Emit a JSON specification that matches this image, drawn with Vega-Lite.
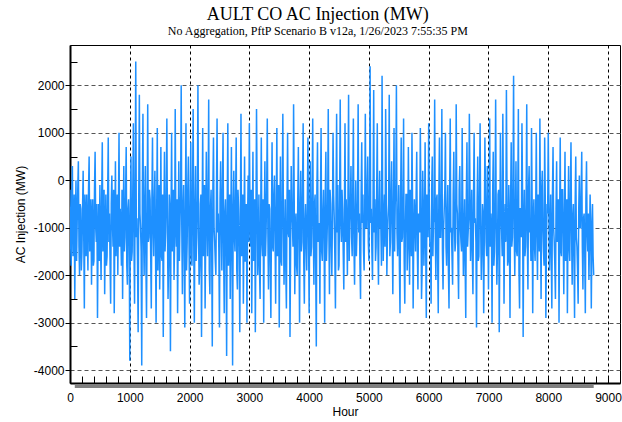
{
  "$schema": "https://vega.github.io/schema/vega-lite/v6.json",
  "width": 550,
  "height": 338,
  "autosize": {"type": "none"},
  "padding": {"left": 70, "top": 45, "right": 2, "bottom": 39},
  "background": "white",
  "title": {
    "text": "AULT CO AC Injection (MW)",
    "subtitle": "No Aggregation, PftP Scenario B v12a, 1/26/2023 7:55:35 PM",
    "font": "Liberation Serif",
    "fontSize": 18,
    "fontWeight": "normal",
    "color": "black",
    "subtitleFont": "Liberation Serif",
    "subtitleFontSize": 12,
    "subtitleColor": "black",
    "anchor": "middle",
    "frame": "bounds",
    "offset": 8,
    "subtitlePadding": 2
  },
  "config": {
    "view": {"stroke": "black", "strokeWidth": 1},
    "axis": {
      "labelFont": "Liberation Sans",
      "labelFontSize": 12,
      "labelColor": "black",
      "titleFont": "Liberation Sans",
      "titleFontSize": 12,
      "titleFontWeight": "normal",
      "titleColor": "black",
      "domainColor": "black",
      "domainWidth": 2,
      "tickColor": "black",
      "tickWidth": 1,
      "labelOverlap": false,
      "labelFlush": false,
      "zindex": 1
    }
  },
  "resolve": {"axis": {"x": "independent", "y": "independent"}},
  "layer": [
    {
      "data": {"values": [
{"h":0,"v":-200},{"h":10,"v":-1300},{"h":20,"v":-1800},{"h":30,"v":-400},{"h":40,"v":300},{"h":50,"v":-1600},{"h":60,"v":-1200},{"h":70,"v":-300},{"h":80,"v":-2500},{"h":90,"v":-900},
{"h":100,"v":0},{"h":110,"v":-1700},{"h":120,"v":-900},{"h":130,"v":-200},{"h":140,"v":400},{"h":150,"v":-1400},{"h":160,"v":-2000},{"h":170,"v":-500},{"h":180,"v":-600},{"h":190,"v":-1900},
{"h":200,"v":-1500},{"h":210,"v":-600},{"h":220,"v":200},{"h":230,"v":-1200},{"h":240,"v":-2700},{"h":250,"v":-300},{"h":260,"v":-800},{"h":270,"v":-1600},{"h":280,"v":-300},{"h":290,"v":-1100},
{"h":300,"v":-1900},{"h":310,"v":-200},{"h":320,"v":500},{"h":330,"v":-1500},{"h":340,"v":-1100},{"h":350,"v":-400},{"h":360,"v":-2200},{"h":370,"v":-800},{"h":380,"v":-400},{"h":390,"v":-1800},
{"h":400,"v":-1700},{"h":410,"v":-200},{"h":420,"v":600},{"h":430,"v":-1000},{"h":440,"v":-1300},{"h":450,"v":-500},{"h":460,"v":-2900},{"h":470,"v":-1200},{"h":480,"v":-500},{"h":490,"v":-1700},
{"h":500,"v":-100},{"h":510,"v":-1300},{"h":520,"v":-2100},{"h":530,"v":-400},{"h":540,"v":800},{"h":550,"v":-1500},{"h":560,"v":-1000},{"h":570,"v":-200},{"h":580,"v":-2400},{"h":590,"v":-1100},
{"h":600,"v":-300},{"h":610,"v":-1800},{"h":620,"v":-1600},{"h":630,"v":-300},{"h":640,"v":900},{"h":650,"v":-1300},{"h":660,"v":-700},{"h":670,"v":-1700},{"h":680,"v":-2600},{"h":690,"v":-500},
{"h":700,"v":100},{"h":710,"v":-900},{"h":720,"v":-1400},{"h":730,"v":-200},{"h":740,"v":-2800},{"h":750,"v":-1000},{"h":760,"v":400},{"h":770,"v":-1600},{"h":780,"v":-900},{"h":790,"v":-300},
{"h":800,"v":-2000},{"h":810,"v":-700},{"h":820,"v":1000},{"h":830,"v":-1400},{"h":840,"v":-600},{"h":850,"v":-1100},{"h":860,"v":-1800},{"h":870,"v":-200},{"h":880,"v":-2500},{"h":890,"v":-900},
{"h":900,"v":300},{"h":910,"v":-1500},{"h":920,"v":-1200},{"h":930,"v":-300},{"h":940,"v":700},{"h":950,"v":-1800},{"h":960,"v":-2200},{"h":970,"v":-600},{"h":980,"v":-400},{"h":990,"v":-1200},
{"h":1000,"v":-3800},{"h":1010,"v":-600},{"h":1020,"v":500},{"h":1030,"v":-1700},{"h":1040,"v":-1500},{"h":1050,"v":-300},{"h":1060,"v":1200},{"h":1070,"v":-1400},{"h":1080,"v":-2600},{"h":1090,"v":-200},
{"h":1100,"v":2500},{"h":1110,"v":-1200},{"h":1120,"v":-800},{"h":1130,"v":-1800},{"h":1140,"v":-3200},{"h":1150,"v":-400},{"h":1160,"v":1800},{"h":1170,"v":-700},{"h":1180,"v":-1000},{"h":1190,"v":-1500},
{"h":1200,"v":-3900},{"h":1210,"v":-300},{"h":1220,"v":1400},{"h":1230,"v":-1100},{"h":1240,"v":-2000},{"h":1250,"v":-500},{"h":1260,"v":300},{"h":1270,"v":-1800},{"h":1280,"v":-2900},{"h":1290,"v":-800},
{"h":1300,"v":1600},{"h":1310,"v":-1300},{"h":1320,"v":-1200},{"h":1330,"v":-200},{"h":1340,"v":-400},{"h":1350,"v":-1600},{"h":1360,"v":-2700},{"h":1370,"v":-400},{"h":1380,"v":900},{"h":1390,"v":-1000},
{"h":1400,"v":-1600},{"h":1410,"v":-500},{"h":1420,"v":200},{"h":1430,"v":-1400},{"h":1440,"v":-3000},{"h":1450,"v":-700},{"h":1460,"v":1100},{"h":1470,"v":-1900},{"h":1480,"v":-900},{"h":1490,"v":-100},
{"h":1500,"v":-2300},{"h":1510,"v":-1200},{"h":1520,"v":700},{"h":1530,"v":-1600},{"h":1540,"v":-1700},{"h":1550,"v":-300},{"h":1560,"v":-3300},{"h":1570,"v":-900},{"h":1580,"v":600},{"h":1590,"v":-1500},
{"h":1600,"v":-1100},{"h":1610,"v":-300},{"h":1620,"v":1300},{"h":1630,"v":-1000},{"h":1640,"v":-2500},{"h":1650,"v":-1700},{"h":1660,"v":-300},{"h":1670,"v":-600},{"h":1680,"v":-3600},{"h":1690,"v":-800},
{"h":1700,"v":1000},{"h":1710,"v":-1500},{"h":1720,"v":-700},{"h":1730,"v":-200},{"h":1740,"v":-2100},{"h":1750,"v":-1300},{"h":1760,"v":1500},{"h":1770,"v":-900},{"h":1780,"v":-1400},{"h":1790,"v":-400},
{"h":1800,"v":-2800},{"h":1810,"v":-1100},{"h":1820,"v":400},{"h":1830,"v":-1700},{"h":1840,"v":-900},{"h":1850,"v":-300},{"h":1860,"v":2000},{"h":1870,"v":-1000},{"h":1880,"v":-2400},{"h":1890,"v":-600},
{"h":1900,"v":-100},{"h":1910,"v":-1400},{"h":1920,"v":-3100},{"h":1930,"v":-500},{"h":1940,"v":1200},{"h":1950,"v":-1900},{"h":1960,"v":-1300},{"h":1970,"v":-200},{"h":1980,"v":500},{"h":1990,"v":-1200},
{"h":2000,"v":-2600},{"h":2010,"v":-800},{"h":2020,"v":800},{"h":2030,"v":-1500},{"h":2040,"v":-1800},{"h":2050,"v":-200},{"h":2060,"v":1500},{"h":2070,"v":-1300},{"h":2080,"v":-3000},{"h":2090,"v":-600},
{"h":2100,"v":300},{"h":2110,"v":-1700},{"h":2120,"v":-1200},{"h":2130,"v":-400},{"h":2140,"v":2000},{"h":2150,"v":-1100},{"h":2160,"v":-2200},{"h":2170,"v":-1800},{"h":2180,"v":-500},{"h":2190,"v":-300},
{"h":2200,"v":-3300},{"h":2210,"v":-900},{"h":2220,"v":1100},{"h":2230,"v":-1600},{"h":2240,"v":-900},{"h":2250,"v":-100},{"h":2260,"v":-2700},{"h":2270,"v":-1200},{"h":2280,"v":600},{"h":2290,"v":-700},
{"h":2300,"v":-1600},{"h":2310,"v":-500},{"h":2320,"v":1700},{"h":2330,"v":-1900},{"h":2340,"v":-2400},{"h":2350,"v":-600},{"h":2360,"v":-200},{"h":2370,"v":-1400},{"h":2380,"v":-3500},{"h":2390,"v":-200},
{"h":2400,"v":900},{"h":2410,"v":-1000},{"h":2420,"v":-1300},{"h":2430,"v":-1700},{"h":2440,"v":-2000},{"h":2450,"v":-300},{"h":2460,"v":1300},{"h":2470,"v":-1100},{"h":2480,"v":-700},{"h":2490,"v":-1500},
{"h":2500,"v":-3100},{"h":2510,"v":-400},{"h":2520,"v":400},{"h":2530,"v":-900},{"h":2540,"v":-1900},{"h":2550,"v":-200},{"h":2560,"v":1000},{"h":2570,"v":-1600},{"h":2580,"v":-2800},{"h":2590,"v":-700},
{"h":2600,"v":-400},{"h":2610,"v":-1300},{"h":2620,"v":-3700},{"h":2630,"v":-500},{"h":2640,"v":1200},{"h":2650,"v":-1800},{"h":2660,"v":-1100},{"h":2670,"v":-300},{"h":2680,"v":-2500},{"h":2690,"v":-1000},
{"h":2700,"v":700},{"h":2710,"v":-1500},{"h":2720,"v":-3900},{"h":2730,"v":-600},{"h":2740,"v":200},{"h":2750,"v":-1200},{"h":2760,"v":-1500},{"h":2770,"v":-400},{"h":2780,"v":900},{"h":2790,"v":-1900},
{"h":2800,"v":-2300},{"h":2810,"v":-200},{"h":2820,"v":-600},{"h":2830,"v":-1400},{"h":2840,"v":-3200},{"h":2850,"v":-800},{"h":2860,"v":1400},{"h":2870,"v":-1600},{"h":2880,"v":-1000},{"h":2890,"v":-300},
{"h":2900,"v":-2600},{"h":2910,"v":-1100},{"h":2920,"v":500},{"h":2930,"v":-1700},{"h":2940,"v":-1700},{"h":2950,"v":-500},{"h":2960,"v":-3000},{"h":2970,"v":-900},{"h":2980,"v":100},{"h":2990,"v":-1300},
{"h":3000,"v":1200},{"h":3010,"v":-600},{"h":3020,"v":-1400},{"h":3030,"v":-200},{"h":3040,"v":-2800},{"h":3050,"v":-1200},{"h":3060,"v":600},{"h":3070,"v":-1700},{"h":3080,"v":-900},{"h":3090,"v":-400},
{"h":3100,"v":-3200},{"h":3110,"v":-1000},{"h":3120,"v":1500},{"h":3130,"v":-300},{"h":3140,"v":-2000},{"h":3150,"v":-1500},{"h":3160,"v":-300},{"h":3170,"v":-1900},{"h":3180,"v":-2500},{"h":3190,"v":-700},
{"h":3200,"v":900},{"h":3210,"v":-1300},{"h":3220,"v":-1600},{"h":3230,"v":-400},{"h":3240,"v":-3000},{"h":3250,"v":-800},{"h":3260,"v":400},{"h":3270,"v":-1600},{"h":3280,"v":-1100},{"h":3290,"v":-200},
{"h":3300,"v":1300},{"h":3310,"v":-1100},{"h":3320,"v":-2300},{"h":3330,"v":-500},{"h":3340,"v":-600},{"h":3350,"v":-1800},{"h":3360,"v":-2900},{"h":3370,"v":-900},{"h":3380,"v":800},{"h":3390,"v":-1400},
{"h":3400,"v":-1500},{"h":3410,"v":-300},{"h":3420,"v":100},{"h":3430,"v":-1200},{"h":3440,"v":-2600},{"h":3450,"v":-700},{"h":3460,"v":1100},{"h":3470,"v":-1600},{"h":3480,"v":-800},{"h":3490,"v":-100},
{"h":3500,"v":-3100},{"h":3510,"v":-1000},{"h":3520,"v":500},{"h":3530,"v":-1700},{"h":3540,"v":-1800},{"h":3550,"v":-400},{"h":3560,"v":1400},{"h":3570,"v":-800},{"h":3580,"v":-2200},{"h":3590,"v":-1300},
{"h":3600,"v":-400},{"h":3610,"v":-1900},{"h":3620,"v":-2700},{"h":3630,"v":-500},{"h":3640,"v":1000},{"h":3650,"v":-1100},{"h":3660,"v":-1200},{"h":3670,"v":-200},{"h":3680,"v":-3300},{"h":3690,"v":-1500},
{"h":3700,"v":300},{"h":3710,"v":-700},{"h":3720,"v":-900},{"h":3730,"v":-1400},{"h":3740,"v":1600},{"h":3750,"v":-300},{"h":3760,"v":-2400},{"h":3770,"v":-1000},{"h":3780,"v":-700},{"h":3790,"v":-1800},
{"h":3800,"v":-2000},{"h":3810,"v":-400},{"h":3820,"v":700},{"h":3830,"v":-1200},{"h":3840,"v":-3000},{"h":3850,"v":-600},{"h":3860,"v":200},{"h":3870,"v":-1500},{"h":3880,"v":-1300},{"h":3890,"v":-200},
{"h":3900,"v":1200},{"h":3910,"v":-1700},{"h":3920,"v":-2600},{"h":3930,"v":-900},{"h":3940,"v":-500},{"h":3950,"v":-1300},{"h":3960,"v":-1900},{"h":3970,"v":-500},{"h":3980,"v":900},{"h":3990,"v":-1100},
{"h":4000,"v":-2800},{"h":4010,"v":-700},{"h":4020,"v":400},{"h":4030,"v":-1600},{"h":4040,"v":-1400},{"h":4050,"v":-300},{"h":4060,"v":1300},{"h":4070,"v":-1100},{"h":4080,"v":-2200},{"h":4090,"v":-500},
{"h":4100,"v":-300},{"h":4110,"v":-1800},{"h":4120,"v":-3500},{"h":4130,"v":-200},{"h":4140,"v":800},{"h":4150,"v":-1300},{"h":4160,"v":-1000},{"h":4170,"v":-900},{"h":4180,"v":-2600},{"h":4190,"v":-400},
{"h":4200,"v":1100},{"h":4210,"v":-1500},{"h":4220,"v":-1700},{"h":4230,"v":-700},{"h":4240,"v":-200},{"h":4250,"v":-1200},{"h":4260,"v":-3000},{"h":4270,"v":-300},{"h":4280,"v":600},{"h":4290,"v":-1700},
{"h":4300,"v":-1200},{"h":4310,"v":-600},{"h":4320,"v":1500},{"h":4330,"v":-1000},{"h":4340,"v":-2400},{"h":4350,"v":-200},{"h":4360,"v":-500},{"h":4370,"v":-1400},{"h":4380,"v":-2000},{"h":4390,"v":-800},
{"h":4400,"v":1000},{"h":4410,"v":-300},{"h":4420,"v":-800},{"h":4430,"v":-1600},{"h":4440,"v":-2700},{"h":4450,"v":-500},{"h":4460,"v":1400},{"h":4470,"v":-1100},{"h":4480,"v":-100},{"h":4490,"v":-1900},
{"h":4500,"v":-1800},{"h":4510,"v":-400},{"h":4520,"v":1700},{"h":4530,"v":-900},{"h":4540,"v":-1300},{"h":4550,"v":-200},{"h":4560,"v":-600},{"h":4570,"v":-1500},{"h":4580,"v":-2300},{"h":4590,"v":-700},
{"h":4600,"v":1200},{"h":4610,"v":-1300},{"h":4620,"v":-400},{"h":4630,"v":-1000},{"h":4640,"v":-2000},{"h":4650,"v":-300},{"h":4660,"v":1800},{"h":4670,"v":-1700},{"h":4680,"v":-900},{"h":4690,"v":-500},
{"h":4700,"v":300},{"h":4710,"v":-1200},{"h":4720,"v":-1600},{"h":4730,"v":-200},{"h":4740,"v":1300},{"h":4750,"v":-1400},{"h":4760,"v":-2200},{"h":4770,"v":-800},{"h":4780,"v":0},{"h":4790,"v":-1600},
{"h":4800,"v":-1100},{"h":4810,"v":-400},{"h":4820,"v":1600},{"h":4830,"v":-1100},{"h":4840,"v":-700},{"h":4850,"v":-1800},{"h":4860,"v":-2500},{"h":4870,"v":-300},{"h":4880,"v":800},{"h":4890,"v":-900},
{"h":4900,"v":-300},{"h":4910,"v":-1500},{"h":4920,"v":-1900},{"h":4930,"v":-600},{"h":4940,"v":1400},{"h":4950,"v":-1000},{"h":4960,"v":-1000},{"h":4970,"v":-200},{"h":4980,"v":500},{"h":4990,"v":-1300},
{"h":5000,"v":-1700},{"h":5010,"v":-400},{"h":5020,"v":2400},{"h":5030,"v":-900},{"h":5040,"v":-600},{"h":5050,"v":-1500},{"h":5060,"v":-2100},{"h":5070,"v":-300},{"h":5080,"v":1900},{"h":5090,"v":-1100},
{"h":5100,"v":-400},{"h":5110,"v":-1700},{"h":5120,"v":-1400},{"h":5130,"v":-200},{"h":5140,"v":1200},{"h":5150,"v":-1300},{"h":5160,"v":-2200},{"h":5170,"v":-600},{"h":5180,"v":200},{"h":5190,"v":-1000},
{"h":5200,"v":-1000},{"h":5210,"v":-1800},{"h":5220,"v":2200},{"h":5230,"v":-400},{"h":5240,"v":-1700},{"h":5250,"v":-800},{"h":5260,"v":-300},{"h":5270,"v":-1400},{"h":5280,"v":1500},{"h":5290,"v":-100},
{"h":5300,"v":-2000},{"h":5310,"v":-1200},{"h":5320,"v":-800},{"h":5330,"v":-500},{"h":5340,"v":1800},{"h":5350,"v":-1600},{"h":5360,"v":-1300},{"h":5370,"v":-300},{"h":5380,"v":400},{"h":5390,"v":-1000},
{"h":5400,"v":-2400},{"h":5410,"v":-700},{"h":5420,"v":1100},{"h":5430,"v":-1500},{"h":5440,"v":-500},{"h":5450,"v":-200},{"h":5460,"v":2000},{"h":5470,"v":-1100},{"h":5480,"v":-1600},{"h":5490,"v":-900},
{"h":5500,"v":-100},{"h":5510,"v":-1800},{"h":5520,"v":-2800},{"h":5530,"v":-400},{"h":5540,"v":900},{"h":5550,"v":-1300},{"h":5560,"v":-1200},{"h":5570,"v":-600},{"h":5580,"v":1300},{"h":5590,"v":-1700},
{"h":5600,"v":-2600},{"h":5610,"v":-1000},{"h":5620,"v":-300},{"h":5630,"v":-300},{"h":5640,"v":-1900},{"h":5650,"v":-1400},{"h":5660,"v":700},{"h":5670,"v":-800},{"h":5680,"v":-2200},{"h":5690,"v":-200},
{"h":5700,"v":-700},{"h":5710,"v":-1600},{"h":5720,"v":1000},{"h":5730,"v":-500},{"h":5740,"v":-2700},{"h":5750,"v":-1200},{"h":5760,"v":-400},{"h":5770,"v":-900},{"h":5780,"v":-1500},{"h":5790,"v":-300},
{"h":5800,"v":600},{"h":5810,"v":-1500},{"h":5820,"v":-2300},{"h":5830,"v":-700},{"h":5840,"v":-900},{"h":5850,"v":-1100},{"h":5860,"v":1100},{"h":5870,"v":-400},{"h":5880,"v":-2500},{"h":5890,"v":-1900},
{"h":5900,"v":200},{"h":5910,"v":-600},{"h":5920,"v":-1800},{"h":5930,"v":-1000},{"h":5940,"v":800},{"h":5950,"v":-1400},{"h":5960,"v":-2900},{"h":5970,"v":-300},{"h":5980,"v":-600},{"h":5990,"v":-1200},
{"h":6000,"v":1200},{"h":6010,"v":-500},{"h":6020,"v":-1400},{"h":6030,"v":-1300},{"h":6040,"v":-2600},{"h":6050,"v":-200},{"h":6060,"v":500},{"h":6070,"v":-1600},{"h":6080,"v":-900},{"h":6090,"v":-800},
{"h":6100,"v":1700},{"h":6110,"v":-1100},{"h":6120,"v":-2100},{"h":6130,"v":-400},{"h":6140,"v":-300},{"h":6150,"v":-1700},{"h":6160,"v":-2800},{"h":6170,"v":-300},{"h":6180,"v":900},{"h":6190,"v":-1200},
{"h":6200,"v":-1200},{"h":6210,"v":-600},{"h":6220,"v":1500},{"h":6230,"v":-1500},{"h":6240,"v":-2300},{"h":6250,"v":-1000},{"h":6260,"v":-600},{"h":6270,"v":-200},{"h":6280,"v":1000},{"h":6290,"v":-1400},
{"h":6300,"v":-1800},{"h":6310,"v":-700},{"h":6320,"v":-100},{"h":6330,"v":-1900},{"h":6340,"v":-2700},{"h":6350,"v":-400},{"h":6360,"v":1300},{"h":6370,"v":-1100},{"h":6380,"v":-1000},{"h":6390,"v":-1600},
{"h":6400,"v":-2200},{"h":6410,"v":-300},{"h":6420,"v":600},{"h":6430,"v":-900},{"h":6440,"v":-1500},{"h":6450,"v":-1300},{"h":6460,"v":1600},{"h":6470,"v":-500},{"h":6480,"v":-700},{"h":6490,"v":-1700},
{"h":6500,"v":-2500},{"h":6510,"v":-200},{"h":6520,"v":300},{"h":6530,"v":-1000},{"h":6540,"v":-1300},{"h":6550,"v":-1500},{"h":6560,"v":1100},{"h":6570,"v":-600},{"h":6580,"v":-2000},{"h":6590,"v":-1200},
{"h":6600,"v":-400},{"h":6610,"v":-1800},{"h":6620,"v":-2900},{"h":6630,"v":-300},{"h":6640,"v":800},{"h":6650,"v":-1400},{"h":6660,"v":-1100},{"h":6670,"v":-800},{"h":6680,"v":1400},{"h":6690,"v":-100},
{"h":6700,"v":-1700},{"h":6710,"v":-1100},{"h":6720,"v":-200},{"h":6730,"v":-1600},{"h":6740,"v":-2400},{"h":6750,"v":-400},{"h":6760,"v":1000},{"h":6770,"v":-900},{"h":6780,"v":-800},{"h":6790,"v":-1300},
{"h":6800,"v":-3100},{"h":6810,"v":-500},{"h":6820,"v":500},{"h":6830,"v":-1700},{"h":6840,"v":-1600},{"h":6850,"v":-200},{"h":6860,"v":1200},{"h":6870,"v":-1000},{"h":6880,"v":-2100},{"h":6890,"v":-1500},
{"h":6900,"v":-500},{"h":6910,"v":-700},{"h":6920,"v":-2800},{"h":6930,"v":-1200},{"h":6940,"v":900},{"h":6950,"v":-300},{"h":6960,"v":-1300},{"h":6970,"v":-1600},{"h":6980,"v":300},{"h":6990,"v":-900},
{"h":7000,"v":-2300},{"h":7010,"v":-600},{"h":7020,"v":1300},{"h":7030,"v":-1400},{"h":7040,"v":-700},{"h":7050,"v":-1100},{"h":7060,"v":-3000},{"h":7070,"v":-300},{"h":7080,"v":600},{"h":7090,"v":-1800},
{"h":7100,"v":-1500},{"h":7110,"v":-500},{"h":7120,"v":1700},{"h":7130,"v":-1000},{"h":7140,"v":-2200},{"h":7150,"v":-1500},{"h":7160,"v":-300},{"h":7170,"v":-200},{"h":7180,"v":-3200},{"h":7190,"v":-1200},
{"h":7200,"v":1000},{"h":7210,"v":-700},{"h":7220,"v":-1100},{"h":7230,"v":-1600},{"h":7240,"v":1400},{"h":7250,"v":-400},{"h":7260,"v":-2600},{"h":7270,"v":-900},{"h":7280,"v":-500},{"h":7290,"v":-1300},
{"h":7300,"v":1900},{"h":7310,"v":-300},{"h":7320,"v":-1800},{"h":7330,"v":-1700},{"h":7340,"v":-100},{"h":7350,"v":-1000},{"h":7360,"v":-2900},{"h":7370,"v":-500},{"h":7380,"v":800},{"h":7390,"v":-1400},
{"h":7400,"v":-1200},{"h":7410,"v":-200},{"h":7420,"v":2200},{"h":7430,"v":-1100},{"h":7440,"v":-2000},{"h":7450,"v":-800},{"h":7460,"v":400},{"h":7470,"v":-1500},{"h":7480,"v":-1600},{"h":7490,"v":-400},
{"h":7500,"v":1500},{"h":7510,"v":-1900},{"h":7520,"v":-2700},{"h":7530,"v":-600},{"h":7540,"v":-600},{"h":7550,"v":-1200},{"h":7560,"v":1200},{"h":7570,"v":-300},{"h":7580,"v":-3300},{"h":7590,"v":-1000},
{"h":7600,"v":-200},{"h":7610,"v":-1600},{"h":7620,"v":-1400},{"h":7630,"v":-500},{"h":7640,"v":1600},{"h":7650,"v":-1300},{"h":7660,"v":-2300},{"h":7670,"v":-200},{"h":7680,"v":300},{"h":7690,"v":-1100},
{"h":7700,"v":-900},{"h":7710,"v":-1700},{"h":7720,"v":1100},{"h":7730,"v":-400},{"h":7740,"v":-2800},{"h":7750,"v":-800},{"h":7760,"v":-400},{"h":7770,"v":-1400},{"h":7780,"v":-1700},{"h":7790,"v":-600},
{"h":7800,"v":1000},{"h":7810,"v":-1200},{"h":7820,"v":-2100},{"h":7830,"v":-300},{"h":7840,"v":-800},{"h":7850,"v":-1500},{"h":7860,"v":1300},{"h":7870,"v":-900},{"h":7880,"v":-2500},{"h":7890,"v":-200},
{"h":7900,"v":200},{"h":7910,"v":-1000},{"h":7920,"v":-1500},{"h":7930,"v":-1800},{"h":7940,"v":900},{"h":7950,"v":-400},{"h":7960,"v":-2900},{"h":7970,"v":-1300},{"h":7980,"v":-500},{"h":7990,"v":-700},
{"h":8000,"v":1000},{"h":8010,"v":-500},{"h":8020,"v":-1900},{"h":8030,"v":-1100},{"h":8040,"v":-300},{"h":8050,"v":-1600},{"h":8060,"v":-2700},{"h":8070,"v":-300},{"h":8080,"v":700},{"h":8090,"v":-1000},
{"h":8100,"v":-1300},{"h":8110,"v":-1800},{"h":8120,"v":-2500},{"h":8130,"v":-600},{"h":8140,"v":400},{"h":8150,"v":-1300},{"h":8160,"v":-800},{"h":8170,"v":-400},{"h":8180,"v":-3000},{"h":8190,"v":-900},
{"h":8200,"v":900},{"h":8210,"v":-1500},{"h":8220,"v":-1600},{"h":8230,"v":-200},{"h":8240,"v":-200},{"h":8250,"v":-1200},{"h":8260,"v":-2400},{"h":8270,"v":-700},{"h":8280,"v":600},{"h":8290,"v":-1700},
{"h":8300,"v":-1100},{"h":8310,"v":-400},{"h":8320,"v":-2800},{"h":8330,"v":-1000},{"h":8340,"v":300},{"h":8350,"v":-1400},{"h":8360,"v":-1700},{"h":8370,"v":-300},{"h":8380,"v":800},{"h":8390,"v":-1100},
{"h":8400,"v":-2200},{"h":8410,"v":-800},{"h":8420,"v":-500},{"h":8430,"v":-1600},{"h":8440,"v":-2900},{"h":8450,"v":-500},{"h":8460,"v":500},{"h":8470,"v":-1200},{"h":8480,"v":-1400},{"h":8490,"v":-1900},
{"h":8500,"v":-2600},{"h":8510,"v":-600},{"h":8520,"v":100},{"h":8530,"v":-1000},{"h":8540,"v":-1000},{"h":8550,"v":-300},{"h":8560,"v":600},{"h":8570,"v":-1400},{"h":8580,"v":-2300},{"h":8590,"v":-800},
{"h":8600,"v":-700},{"h":8610,"v":-1500},{"h":8620,"v":-2800},{"h":8630,"v":-400},{"h":8640,"v":400},{"h":8650,"v":-1100},{"h":8660,"v":-1500},{"h":8670,"v":-700},{"h":8680,"v":-2100},{"h":8690,"v":-1300},
{"h":8700,"v":-300},{"h":8710,"v":-900},{"h":8720,"v":-2700},{"h":8730,"v":-1200},{"h":8740,"v":-500},{"h":8750,"v":-1600},{"h":8760,"v":-2000}
      ]},
      "mark": {"type": "line", "color": "#1E90FF", "strokeWidth": 1.5, "clip": true},
      "encoding": {
        "x": {
          "field": "h", "type": "quantitative",
          "scale": {"domain": [0, 9200], "nice": false, "zero": false},
          "axis": {
            "title": "Hour",
            "titlePadding": 3,
            "values": [0,200,400,600,800,1000,1200,1400,1600,1800,2000,2200,2400,2600,2800,3000,3200,3400,3600,3800,4000,4200,4400,4600,4800,5000,5200,5400,5600,5800,6000,6200,6400,6600,6800,7000,7200,7400,7600,7800,8000,8200,8400,8600,8800,9000],
            "labelExpr": "datum.value % 1000 === 0 ? '' + datum.value : ''",
            "tickSize": -7,
            "labelPadding": 16,
            "grid": true,
            "gridColor": "black",
            "gridDash": [3, 3],
            "gridWidth": 1,
            "gridOpacity": {"condition": {"test": "datum.value % 1000 === 0 && datum.value > 0", "value": 1}, "value": 0}
          }
        },
        "y": {
          "field": "v", "type": "quantitative",
          "scale": {"domain": [-4270, 2850], "nice": false, "zero": false},
          "axis": {
            "title": "AC Injection (MW)",
            "titlePadding": 6,
            "values": [-4000,-3500,-3000,-2500,-2000,-1500,-1000,-500,0,500,1000,1500,2000,2500],
            "labelExpr": "datum.value % 1000 === 0 ? '' + datum.value : ''",
            "tickSize": {"condition": {"test": "datum.value % 1000 === 0", "value": 5}, "value": -7},
            "labelPadding": 1,
            "grid": true,
            "gridColor": "#555555",
            "gridDash": [4, 3],
            "gridWidth": 1,
            "gridOpacity": {"condition": {"test": "datum.value % 1000 === 0", "value": 1}, "value": 0}
          }
        }
      }
    },
    {
      "data": {"values": [{"a": 80, "b": 8760, "y": -4333}]},
      "mark": {"type": "rule", "color": "#808080", "strokeWidth": 4, "clip": false},
      "encoding": {
        "x": {"field": "a", "type": "quantitative", "axis": null},
        "x2": {"field": "b"},
        "y": {"field": "y", "type": "quantitative", "axis": null}
      }
    }
  ]
}
